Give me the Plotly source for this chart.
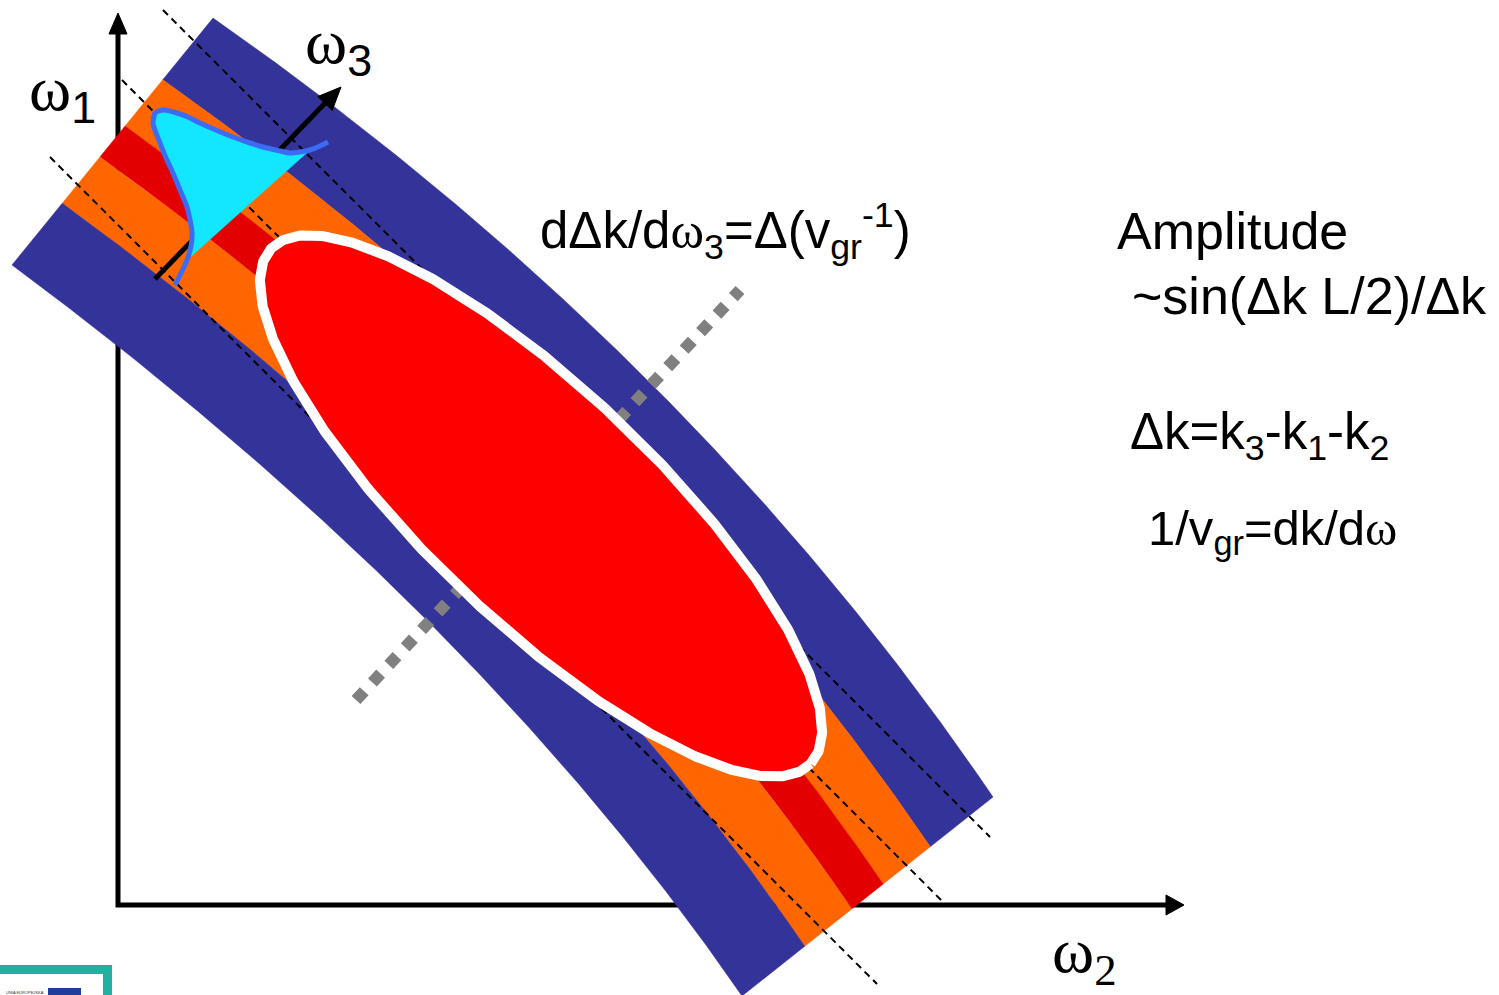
import numpy as np
import plotly.graph_objects as go

W, H = 1499, 995

# ---------------- data (pixel frame, y downwards) ----------------
# curved phase-matching band: outer / inner edges as quadratic Bezier (start, control, end)
band_outer = [(213, 18), (691, 352), (993, 797)]
band_inner = [(12, 265), (477, 610), (742, 996)]
stripe_fracs = [0.0, 0.25, 0.4375, 0.5625, 0.75, 1.0]
stripe_colors = ["#343399", "#FF6600", "#E30000", "#FF6600", "#343399"]

# thin black dashed guide lines (start / end)
dash_x0 = [163, 122, 50]
dash_y0 = [10, 80, 157]
dash_x1 = [990, 943, 877]
dash_y1 = [837, 902, 984]

# grey dotted line
grey_x = [356, 740]
grey_y = [700, 290]

# ellipse (centre, semi-axes, tilt in degrees)
ell_center = (541, 506)
ell_axes = (373, 115)
ell_angle = 43.7

# spectrum of the omega3 pulse (outline points)
gauss_x = [175, 181, 187, 191, 192, 190, 187, 180, 173, 166, 160, 155, 153, 154, 155, 159,
           163, 170, 177, 188, 200, 216, 233, 250, 267, 280, 290, 300, 310, 320, 328]
gauss_y = [285, 273, 260, 246, 233, 220, 207, 190, 173, 158, 143, 130, 123, 117, 113, 111,
           110, 111, 113, 117, 123, 130, 137, 143, 148, 151, 153, 152, 150, 146, 142]

# axes
axis_x = [118, 118, 1168]
axis_y = [32, 905, 905]
w3_axis_x = [155, 330]
w3_axis_y = [279, 98]

SERIF = "Liberation Serif"
SANS = "Liberation Sans"
OMEGA = f"<span style=\"font-family:'{SERIF}'\">ω</span>"

# text labels: (x-left, y-middle, text, font size)
labels = [
    (538, 231, "dΔk/d" + OMEGA + "<sub>3</sub>=Δ(v<sub>gr</sub><sup>-1</sup>)", 51),
    (1115, 231, "Amplitude", 52),
    (1130, 296, "~sin(Δk L/2)/Δk", 52),
    (1128, 435, "Δk=k<sub>3</sub>-k<sub>1</sub>-k<sub>2</sub>", 51),
    (1146, 531, "1/v<sub>gr</sub>=dk/d" + OMEGA, 49),
]
omega_labels = [
    (27, 92, "ω<sub><span style=\"font-family:'Liberation Sans'\">1</span></sub>"),
    (303, 45, "ω<sub><span style=\"font-family:'Liberation Sans'\">3</span></sub>"),
    (1050, 955, "ω<sub>2</sub>"),
]


def bez(p, t):
    p0, p1, p2 = [np.array(q, float) for q in p]
    t = t[:, None]
    return (1 - t) ** 2 * p0 + 2 * t * (1 - t) * p1 + t ** 2 * p2


def arrow_head(tip, direction, length, half):
    d = np.array(direction, float)
    d /= np.linalg.norm(d)
    n = np.array([-d[1], d[0]])
    tip = np.array(tip, float)
    base = tip - d * length
    a = base + n * half
    b = base - n * half
    return [tip[0], a[0], b[0], tip[0]], [tip[1], a[1], b[1], tip[1]]


fig = go.Figure()

# axes (drawn first: band lies on top)
fig.add_trace(go.Scatter(x=axis_x, y=axis_y, mode="lines",
                         line=dict(color="black", width=5), hoverinfo="skip"))
hx, hy = arrow_head((118, 13), (0, -1), 21, 9)
fig.add_trace(go.Scatter(x=hx, y=hy, mode="lines", fill="toself", fillcolor="black",
                         line=dict(color="black", width=1), hoverinfo="skip"))
hx, hy = arrow_head((1184, 905), (1, 0), 18, 10)
fig.add_trace(go.Scatter(x=hx, y=hy, mode="lines", fill="toself", fillcolor="black",
                         line=dict(color="black", width=1), hoverinfo="skip"))

# band stripes
t = np.linspace(0, 1, 200)
O = bez(band_outer, t)
I = bez(band_inner, t)
for k, col in enumerate(stripe_colors):
    f1, f2 = stripe_fracs[k], stripe_fracs[k + 1]
    b1 = O + f1 * (I - O)
    b2 = O + f2 * (I - O)
    poly = np.vstack([b1, b2[::-1], b1[:1]])
    fig.add_trace(go.Scatter(x=poly[:, 0], y=poly[:, 1], mode="lines", fill="toself",
                             fillcolor=col, line=dict(color=col, width=0.5),
                             hoverinfo="skip"))

# dashed guide lines
for x0, y0, x1, y1 in zip(dash_x0, dash_y0, dash_x1, dash_y1):
    fig.add_trace(go.Scatter(x=[x0, x1], y=[y0, y1], mode="lines",
                             line=dict(color="black", width=2, dash="7px,5px"),
                             hoverinfo="skip"))

# grey dotted line
fig.add_trace(go.Scatter(x=grey_x, y=grey_y, mode="lines",
                         line=dict(color="#808080", width=12, dash="dot"),
                         hoverinfo="skip"))

# ellipse
th = np.linspace(0, 2 * np.pi, 720)
a, b = ell_axes
ang = np.deg2rad(ell_angle)
ex = ell_center[0] + a * np.cos(th) * np.cos(ang) - b * np.sin(th) * np.sin(ang)
ey = ell_center[1] + a * np.cos(th) * np.sin(ang) + b * np.sin(th) * np.cos(ang)
fig.add_trace(go.Scatter(x=ex, y=ey, mode="lines", fill="toself", fillcolor="#FF0000",
                         line=dict(color="white", width=10), hoverinfo="skip"))

# omega3 axis
fig.add_trace(go.Scatter(x=w3_axis_x, y=w3_axis_y, mode="lines",
                         line=dict(color="black", width=5), hoverinfo="skip"))
hx, hy = arrow_head((341, 87), (186, -192), 23, 10)
fig.add_trace(go.Scatter(x=hx, y=hy, mode="lines", fill="toself", fillcolor="black",
                         line=dict(color="black", width=1), hoverinfo="skip"))

# spectrum shape
fx = gauss_x[2:29] + [gauss_x[2]]
fy = gauss_y[2:29] + [gauss_y[2]]
fig.add_trace(go.Scatter(x=fx, y=fy, mode="lines", fill="toself", fillcolor="#12E7FF",
                         line=dict(color="#12E7FF", width=0.5), hoverinfo="skip"))
fig.add_trace(go.Scatter(x=gauss_x, y=gauss_y, mode="lines", line_shape="spline",
                         line=dict(color="#3B6CF6", width=5), hoverinfo="skip"))

for x, y, txt, size in labels:
    fig.add_annotation(x=x, y=y, xref="x", yref="y", text=txt, showarrow=False,
                       xanchor="left", yanchor="middle",
                       font=dict(family=SANS, size=size, color="black"))
for x, y, txt in omega_labels:
    fig.add_annotation(x=x, y=y, xref="x", yref="y", text=txt, showarrow=False,
                       xanchor="left", yanchor="middle",
                       font=dict(family=SERIF, size=64, color="black"))

# small logo at bottom-left
fig.add_shape(type="rect", x0=-10, y0=969.5, x1=107.5, y1=1010,
              line=dict(color="#22B0A2", width=9), fillcolor="white", layer="above")
fig.add_shape(type="rect", x0=48, y0=988, x1=81, y1=1000,
              line=dict(width=0), fillcolor="#1F3E99", layer="above")
fig.add_annotation(x=4, y=992, xref="x", yref="y", text="UNIA EUROPEJSKA", showarrow=False,
                   xanchor="left", yanchor="middle",
                   font=dict(family=SANS, size=4, color="#333333"))

fig.update_layout(
    width=W, height=H, margin=dict(l=0, r=0, t=0, b=0),
    paper_bgcolor="white", plot_bgcolor="white", showlegend=False,
    xaxis=dict(range=[0, W], visible=False, fixedrange=True),
    yaxis=dict(range=[H, 0], visible=False, fixedrange=True),
)
fig.write_html("out.html")
